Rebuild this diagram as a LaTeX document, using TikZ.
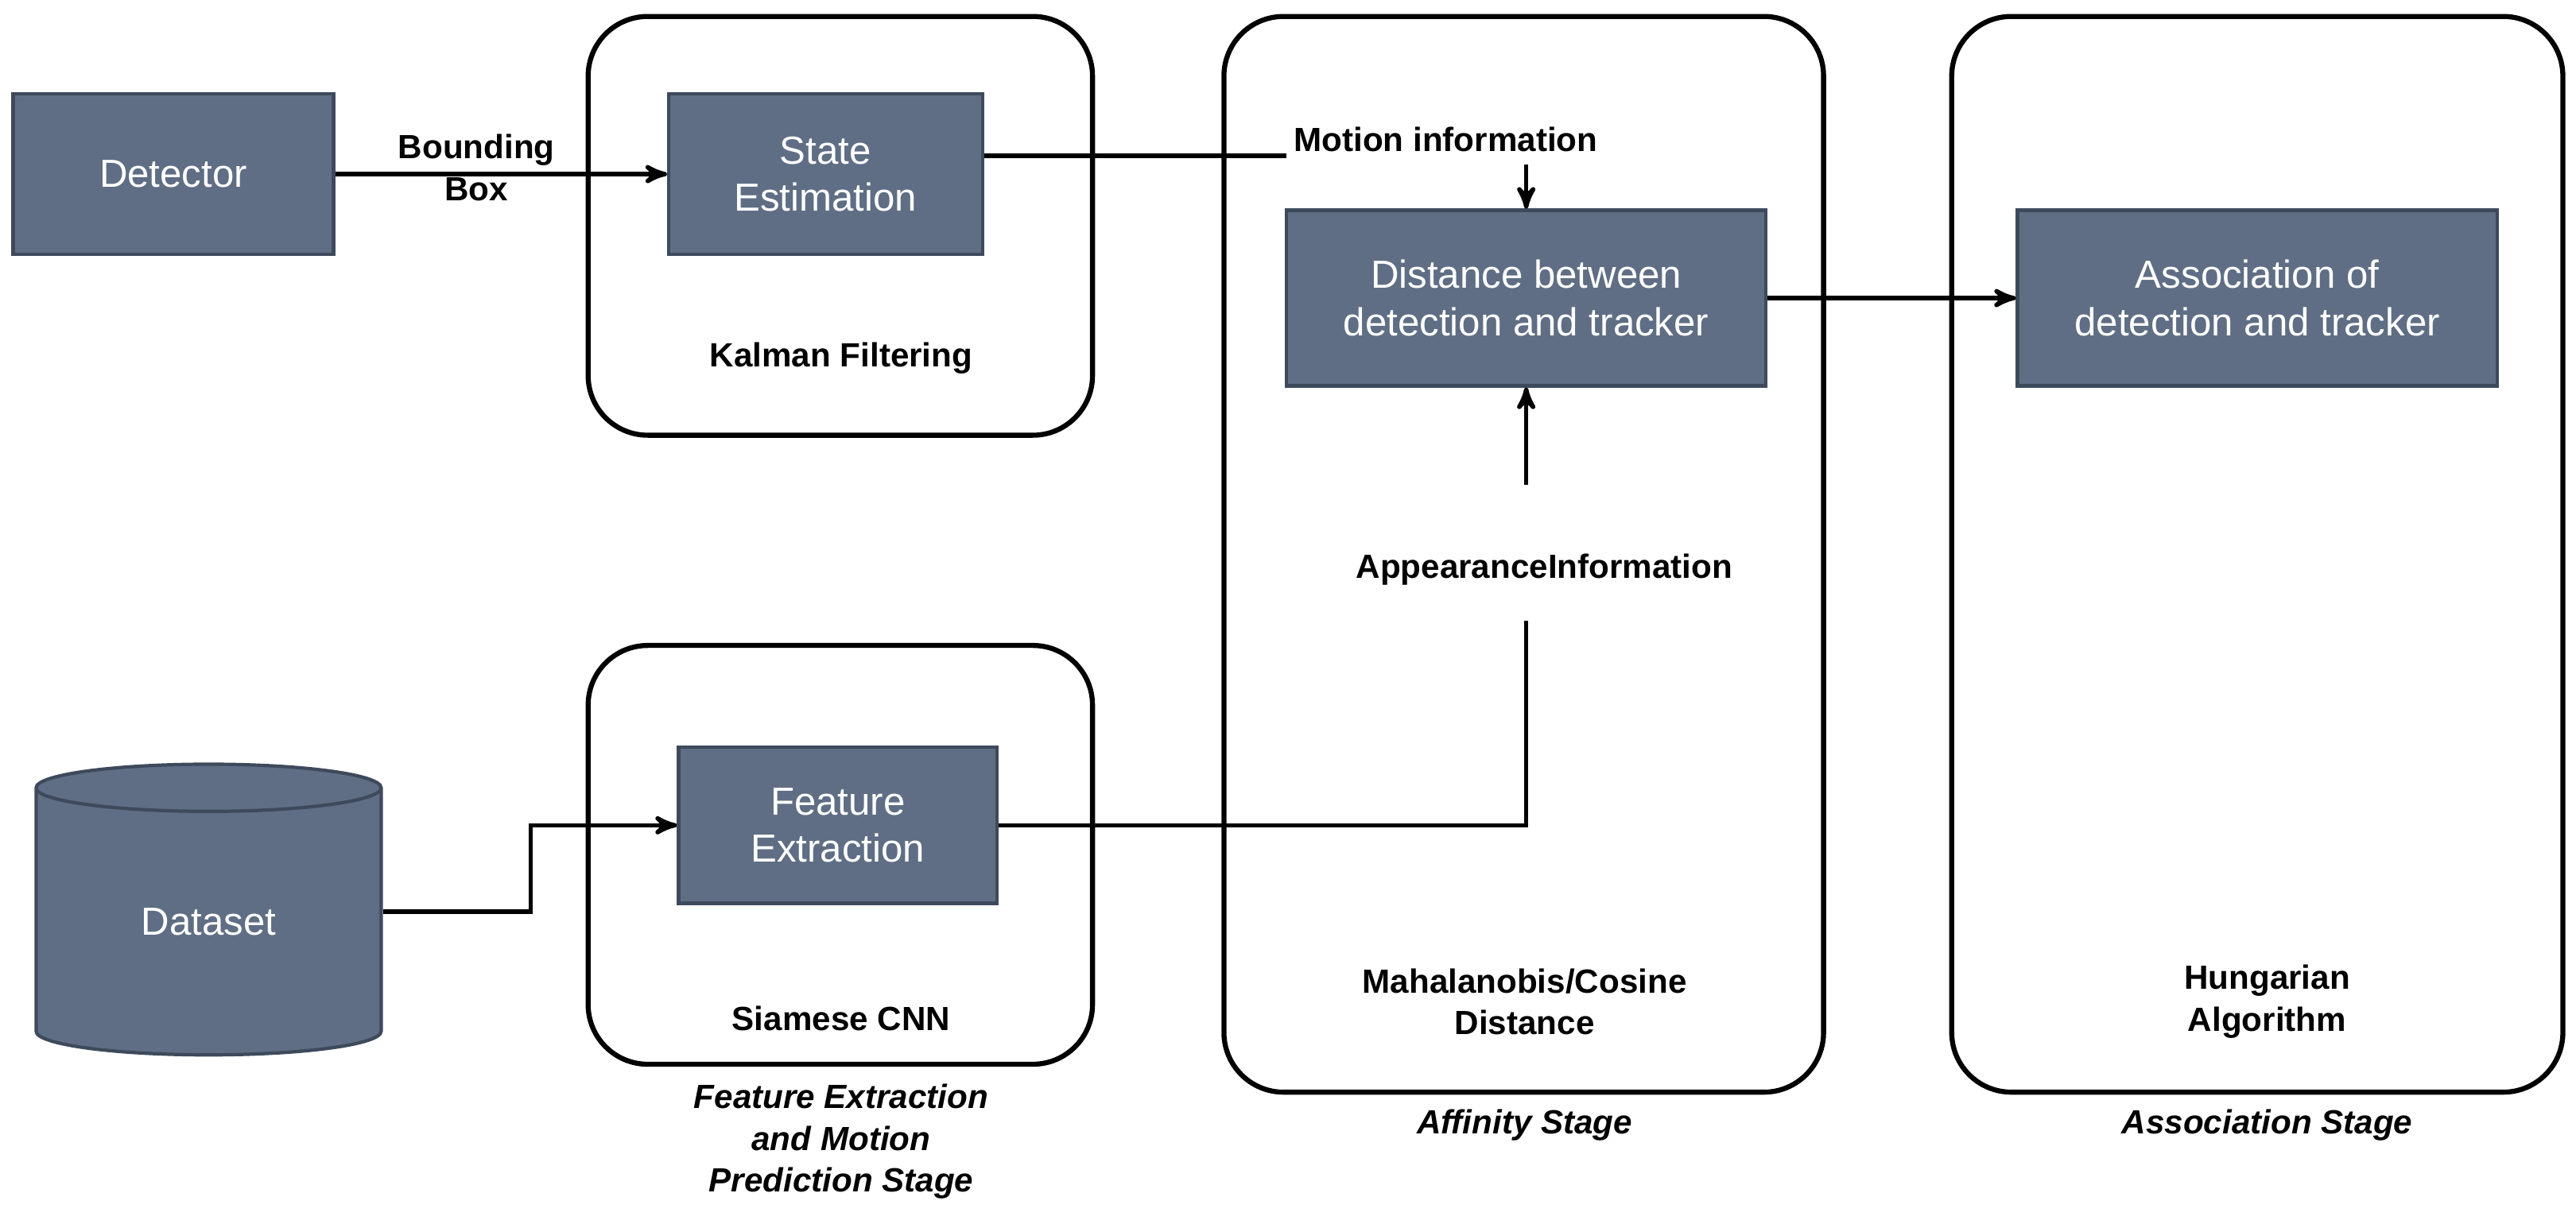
\documentclass[tikz,border=0pt]{standalone}
\usepackage{fontspec}
\setmainfont{Liberation Sans}
\usetikzlibrary{arrows,positioning,shapes.geometric}
\definecolor{boxfill}{HTML}{5F6E84}
\definecolor{boxline}{HTML}{3E4A5C}
\begin{document}
\begin{tikzpicture}[x=0.02066cm,y=-0.02066cm,>=stealth',line width=1.6pt,
    block/.style={rectangle,draw=boxline,fill=boxfill,line width=1.2pt,text=white,
      align=center,font=\fontsize{14}{17}\selectfont,inner sep=0pt},
    stage/.style={draw=black,rounded corners=0.75cm,line width=1.8pt},
    lbl/.style={align=center,font=\fontsize{12}{15}\selectfont\bfseries,fill=white,inner sep=2pt},
    stagecap/.style={align=center,font=\fontsize{12}{15}\selectfont\bfseries\itshape}]
  \useasboundingbox (0,0) rectangle (1568,745);
  % stage frames
  \draw[stage] (358,10) rectangle (665,265);
  \draw[stage] (358,393) rectangle (665,648);
  \draw[stage] (745,10) rectangle (1110,665);
  \draw[stage] (1188,10) rectangle (1560,665);

  \node[block,minimum width=195*0.02066cm,minimum height=98*0.02066cm] (det) at (105.5,106) {Detector};
  \node[block,minimum width=191*0.02066cm,minimum height=98*0.02066cm] (state) at (502.5,106) {State\\Estimation};
  \node[block,minimum width=292*0.02066cm,minimum height=107*0.02066cm] (dist) at (929,181.5) {Distance between\\detection and tracker};
  \node[block,minimum width=292*0.02066cm,minimum height=107*0.02066cm] (assoc) at (1374,181.5) {Association of\\detection and tracker};
  \node[block,minimum width=194*0.02066cm,minimum height=95*0.02066cm] (feat) at (510,502.5) {Feature\\Extraction};
  \node[block,cylinder,shape border rotate=90,shape aspect=0.35,minimum height=177*0.02066cm,
        minimum width=210*0.02066cm] (data) at (127,561.5) {Dataset};

  \node[lbl] (bb) at (290,102) {Bounding\\Box};
  \node[lbl] (motion) at (880,85) {Motion information};
  \node[lbl] (appear) at (940,347) {AppearanceInformation};
  \node[lbl,fill=none] at (512,218) {Kalman Filtering};
  \node[lbl,fill=none] at (512,620) {Siamese CNN};
  \node[lbl,fill=none] at (928,610) {Mahalanobis/Cosine\\Distance};
  \node[lbl,fill=none] at (1380,610) {Hungarian\\Algorithm};
  \node[stagecap] at (512,695) {Feature Extraction\\and Motion\\Prediction Stage};
  \node[stagecap] at (928,685) {Affinity Stage};
  \node[stagecap] at (1380,685) {Association Stage};

  \coordinate (m1) at (929,100);
  \coordinate (a1) at (929,378);
  \coordinate (a2) at (929,295);
  \draw[->] (det.east) -- (state.west);
  \draw (state.east |- 0,95) -- (motion.west |- 0,95);
  \draw[->] (m1) -- (dist.north);
  \draw[->] (a2) -- (dist.south);
  \draw (feat.east) -- (929,502.5) -- (a1);
  \draw[->] (dist.east) -- (assoc.west);
  \draw[->] (data.east |- 0,555) -- (323,555) -- (323,502.5) -- (feat.west);
\end{tikzpicture}
\end{document}
